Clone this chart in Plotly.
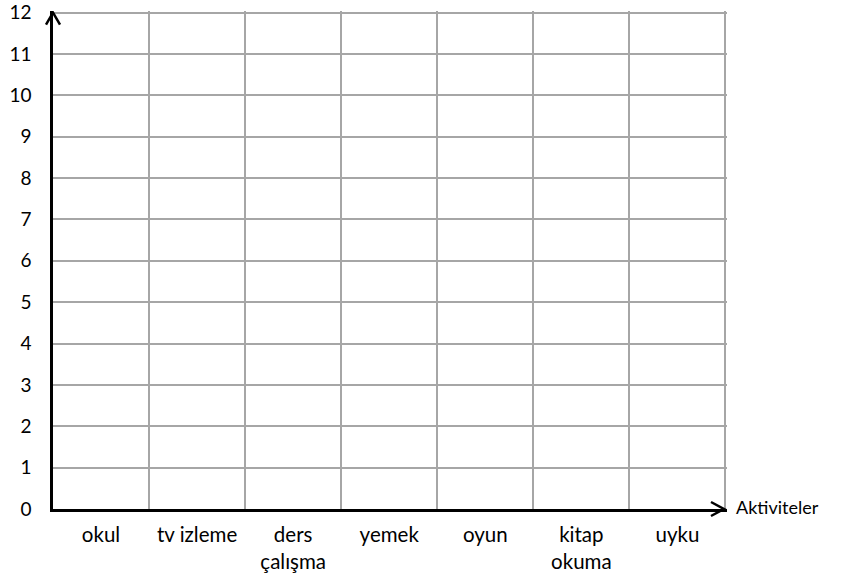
import plotly.graph_objects as go

categories = ["okul", "tv izleme", "ders<br>çalışma", "yemek", "oyun", "kitap<br>okuma", "uyku"]
values = [None, None, None, None, None, None, None]  # blank worksheet chart
y_ticks = list(range(0, 13))
x_title = "Aktiviteler"

FONT = "Lato"
GRID = "#a6a6a6"

fig = go.Figure()
fig.add_trace(go.Bar(x=categories, y=values, showlegend=False, hoverinfo="skip"))

fig.update_layout(
    width=841, height=580,
    margin=dict(l=53, r=114, t=11, b=71, autoexpand=False),
    paper_bgcolor="white", plot_bgcolor="white",
    font=dict(family=FONT, size=19, color="black"),
    xaxis=dict(
        type="category", categoryorder="array", categoryarray=categories,
        tickson="boundaries", showgrid=True, gridcolor=GRID, gridwidth=2,
        ticks="", showline=True, linecolor="black", linewidth=2.5,
        ticklabelstandoff=6, tickfont=dict(size=20.5), automargin=False,
        range=[-0.5, 6.516],
    ),
    yaxis=dict(
        range=[0, 12.04], tickvals=y_ticks, showgrid=True, gridcolor=GRID, gridwidth=2,
        zeroline=False, ticks="", showline=True, linecolor="black", linewidth=2.5,
        ticklabelstandoff=15, tickfont=dict(size=19), automargin=False,
    ),
    shapes=[
        # arrowhead at top of y axis (tip at value 12)
        dict(type="path", xref="paper", yref="y", xsizemode="pixel", ysizemode="pixel",
             xanchor=0, yanchor=12, path="M -7,-12 L 0,0 L 7,-12",
             line=dict(color="black", width=2.5), fillcolor="rgba(0,0,0,0)"),
        # arrowhead at right of x axis
        dict(type="path", xref="paper", yref="paper", xsizemode="pixel", ysizemode="pixel",
             xanchor=1, yanchor=0, path="M -16,7 L -3,0 L -16,-7",
             line=dict(color="black", width=2.5), fillcolor="rgba(0,0,0,0)"),
    ],
    annotations=[
        dict(text=x_title, xref="paper", yref="paper", x=1, y=0, xanchor="left", yanchor="middle",
             xshift=7, yshift=2, showarrow=False, font=dict(size=18)),
    ],
)

fig.write_html("out.html", config={"displayModeBar": False},
               post_script="document.body.style.margin='0';")
